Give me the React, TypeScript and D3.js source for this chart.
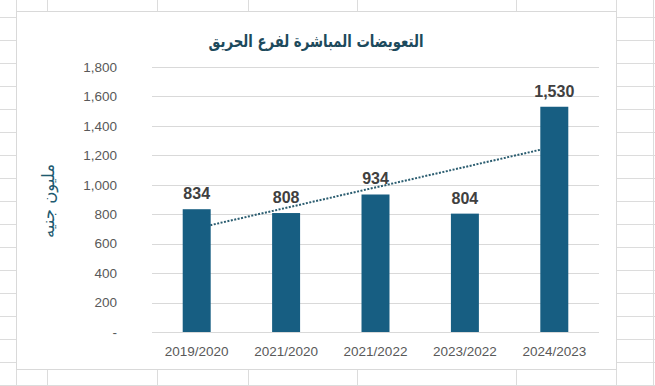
import * as d3 from "d3"

const categories = ["2019/2020", "2021/2020", "2021/2022", "2023/2022", "2024/2023"]
const values = [834, 808, 934, 804, 1530]
const yTicks = [0, 200, 400, 600, 800, 1000, 1200, 1400, 1600, 1800]
const title = "التعويضات المباشرة لفرع الحريق"
const yTitle = "مليون جنيه"

// spreadsheet cell lines behind the chart
const sheetCols = [16, 47, 157, 248, 357, 516, 616, 653]
const sheetRows = [17, 40, 63, 86, 109, 132, 155, 178, 201, 224, 247, 270, 293, 316, 339, 362, 385]

const W = 655
const H = 386

export default function App() {
  const x = d3.scaleBand<string>()
    .domain(categories)
    .range([152, 599])
    .paddingInner(0.687)
    .paddingOuter(0.3435)
  const y = d3.scaleLinear().domain([0, 1800]).range([332, 67])
  const fmt = d3.format(",")

  // linear trendline (least squares) like excel
  const xs = values.map((v, i) => i + 1)
  const mx = d3.mean(xs)!
  const my = d3.mean(values)!
  const slope = d3.sum(xs, (xi, i) => (xi - mx) * (values[i] - my)) / d3.sum(xs, (xi) => (xi - mx) ** 2)
  const icpt = my - slope * mx
  const cx = (c: string) => x(c)! + x.bandwidth() / 2
  const trend = d3.line<number>()
    .x((xi) => cx(categories[xi - 1]))
    .y((xi) => y(icpt + slope * xi))([1, 5])

  return (
    <svg width={W} height={H} style={{ position: "absolute", left: 0, top: 0, background: "#fff" }}>
      {sheetCols.map((c) => (
        <line key={"c" + c} x1={c + 0.5} x2={c + 0.5} y1={0} y2={H} stroke="#dcdcdc" />
      ))}
      {sheetRows.map((r) => (
        <line key={"r" + r} x1={0} x2={W} y1={r + 0.5} y2={r + 0.5} stroke="#dcdcdc" />
      ))}
      <rect x={16.5} y={11.5} width={600} height={358} fill="#fff" stroke="#d9d9d9" />
      <text transform="translate(316,47) scale(0.83,1.05)" textAnchor="middle" fontFamily="DejaVu Sans" fontWeight="bold" fontSize={16} fill="#1d4a5c">
        {title}
      </text>
      <text transform="translate(54,201) rotate(-90)" textAnchor="middle" fontFamily="DejaVu Sans" fontSize={16.5} fill="#1e5a70">
        {yTitle}
      </text>
      {yTicks.map((t) => (
        <g key={t}>
          <line x1={152} x2={599} y1={Math.round(y(t)) + 0.5} y2={Math.round(y(t)) + 0.5} stroke="#d9d9d9" />
          <text x={117} y={y(t)} dy="0.35em" textAnchor="end" fontFamily="Liberation Sans, Arial" fontSize={13.5} fill="#595959">
            {t === 0 ? "-" : fmt(t)}
          </text>
        </g>
      ))}
      <path d={trend!} fill="none" stroke="#2b5d70" strokeWidth={2} strokeDasharray="2 1.5" />
      {values.map((v, i) => (
        <g key={categories[i]}>
          <rect x={x(categories[i])} y={y(v)} width={x.bandwidth()} height={y(0) - y(v)} fill="#175e82" />
          <text x={cx(categories[i])} y={y(v) - 10} textAnchor="middle" fontFamily="Liberation Sans, Arial" fontWeight="bold" fontSize={16} fill="#404040">
            {fmt(v)}
          </text>
        </g>
      ))}
      {categories.map((c) => (
        <text key={c} x={cx(c)} y={356} textAnchor="middle" fontFamily="Liberation Sans, Arial" fontSize={13.5} fill="#595959">
          {c}
        </text>
      ))}
    </svg>
  )
}
